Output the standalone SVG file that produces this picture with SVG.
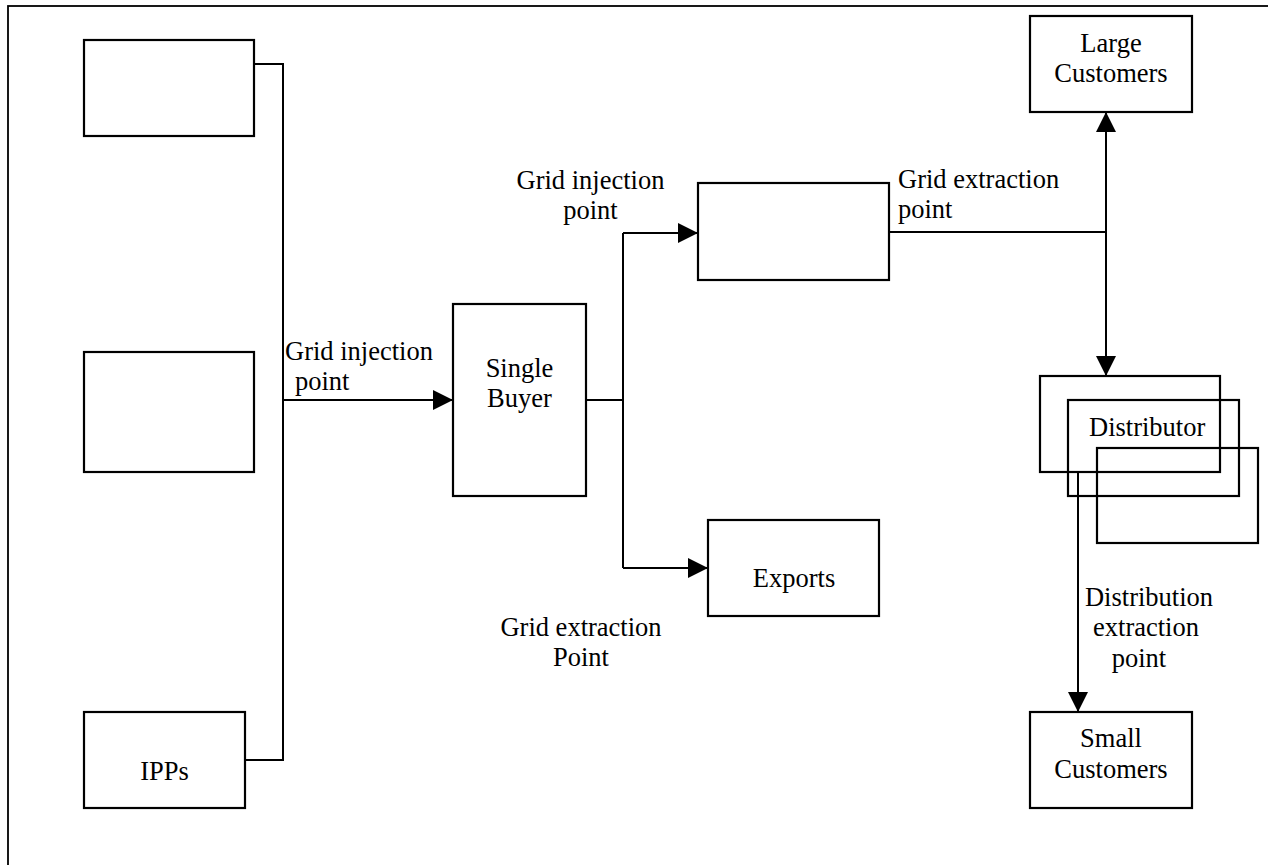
<svg xmlns="http://www.w3.org/2000/svg" width="1268" height="865" viewBox="0 0 1268 865">
<defs>
<style>
.box{fill:none;stroke:#000;stroke-width:2.2}
.ln{fill:none;stroke:#000;stroke-width:2}
text{font-family:"Liberation Serif","Times New Roman",serif;font-size:26.5px;fill:#000}
.m{text-anchor:middle}
</style>
<marker id="ah" viewBox="0 0 20 20" refX="20" refY="10" markerWidth="20" markerHeight="20" markerUnits="userSpaceOnUse" orient="auto">
<path d="M0,0 L20,10 L0,20 Z" fill="#000"/>
</marker>
</defs>
<rect width="1268" height="865" fill="#fff"/>
<rect x="8" y="6" width="1275" height="875" fill="none" stroke="#000" stroke-width="1.8"/>

<g id="gen1"><rect class="box" x="84" y="40" width="170" height="96"/></g>
<g id="gen2"><rect class="box" x="84" y="352" width="170" height="120"/></g>
<g id="ipps"><rect class="box" x="84" y="712" width="161" height="96"/><text class="m" x="164.5" y="780">IPPs</text></g>
<g id="single-buyer"><rect class="box" x="453" y="304" width="133" height="192"/><text class="m" x="519.5" y="377">Single</text><text class="m" x="519.5" y="407">Buyer</text></g>
<g id="grid"><rect class="box" x="698" y="183" width="191" height="97"/></g>
<g id="exports"><rect class="box" x="708" y="520" width="171" height="96"/><text class="m" x="794" y="587">Exports</text></g>
<g id="large-customers"><rect class="box" x="1030" y="16" width="162" height="96"/><text class="m" x="1111" y="52">Large</text><text class="m" x="1111" y="82">Customers</text></g>
<g id="distributor">
<rect class="box" x="1040" y="376" width="180" height="96"/>
<rect class="box" x="1068" y="400" width="171" height="96"/>
<rect class="box" x="1097" y="448" width="161" height="95"/>
<text x="1089" y="436">Distributor</text>
</g>
<g id="small-customers"><rect class="box" x="1030" y="712" width="162" height="96"/><text class="m" x="1111" y="747">Small</text><text class="m" x="1111" y="778">Customers</text></g>

<g id="connectors">
<polyline class="ln" points="254,64 283,64 283,760 245,760"/>
<line class="ln" x1="283" y1="400" x2="453" y2="400" marker-end="url(#ah)"/>
<line class="ln" x1="586" y1="400" x2="623" y2="400"/>
<polyline class="ln" points="623,233 623,568"/>
<line class="ln" x1="623" y1="233" x2="698" y2="233" marker-end="url(#ah)"/>
<line class="ln" x1="623" y1="568" x2="708" y2="568" marker-end="url(#ah)"/>
<line class="ln" x1="889" y1="232" x2="1106" y2="232"/>
<line class="ln" x1="1106" y1="232" x2="1106" y2="112" marker-end="url(#ah)"/>
<line class="ln" x1="1106" y1="232" x2="1106" y2="376" marker-end="url(#ah)"/>
<line class="ln" x1="1078" y1="472" x2="1078" y2="712" marker-end="url(#ah)"/>
</g>

<g id="labels">
<text x="285" y="360">Grid injection</text>
<text x="295" y="390">point</text>
<text class="m" x="590.5" y="189">Grid injection</text>
<text class="m" x="590.5" y="219">point</text>
<text x="898" y="188">Grid extraction</text>
<text x="898" y="218">point</text>
<text class="m" x="581" y="636">Grid extraction</text>
<text class="m" x="581" y="666">Point</text>
<text class="m" x="1149" y="606">Distribution</text>
<text class="m" x="1146" y="636">extraction</text>
<text class="m" x="1139" y="667">point</text>
</g>
</svg>
